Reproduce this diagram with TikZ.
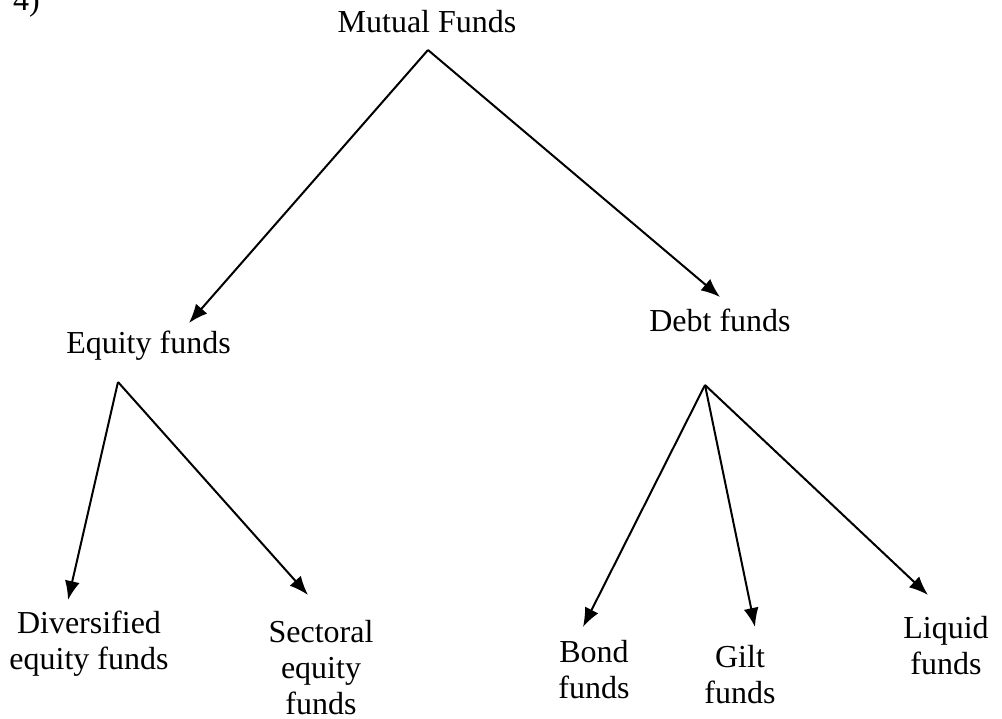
\documentclass[tikz,border=0pt]{standalone}
\usepackage{fontspec}
\setmainfont{Liberation Serif}
\usetikzlibrary{arrows.meta}

\begin{document}
\begin{tikzpicture}
[x=1pt,y=-1pt,line width=2pt,%
  every node/.style={inner sep=0pt,align=center,anchor=base},
  branch/.style={-{Latex[length=19pt,width=15pt]}}]
\fontsize{32}{36}\selectfont
\useasboundingbox (0,0) rectangle (1002,719);
\node[anchor=base west] (num) at (12,11) {4)};
\node (mf) at (427,33) {Mutual Funds};
\node (eq) at (148.5,354) {Equity funds};
\node (debt) at (720,332) {Debt funds};
\node (div) at (89,669) {Diversified\\equity funds};
\node (sect) at (321,714) {Sectoral\\equity\\funds};
\node (bond) at (594,698) {Bond\\funds};
\node (gilt) at (740,703) {Gilt\\funds};
\node (liq) at (946,674) {Liquid\\funds};
\coordinate (mfsplit) at (428,50);
\coordinate (eqsplit) at (118,382);
\coordinate (debtsplit) at (705,385);
\draw[branch] (mfsplit) -- ([shift={(40.5,-31)}]eq.base);
\draw[branch] (mfsplit) -- ([shift={(0,-35)}]debt.base);
\draw[branch] (eqsplit) -- ([shift={(-21,-69)}]div.base);
\draw[branch] (eqsplit) -- ([shift={(-13,-119)}]sect.base);
\draw[branch] (debtsplit) -- ([shift={(-11,-71)}]bond.base);
\draw[branch] (debtsplit) -- ([shift={(15,-76)}]gilt.base);
\draw[branch] (debtsplit) -- ([shift={(-18,-79)}]liq.base);
\end{tikzpicture}
\end{document}
